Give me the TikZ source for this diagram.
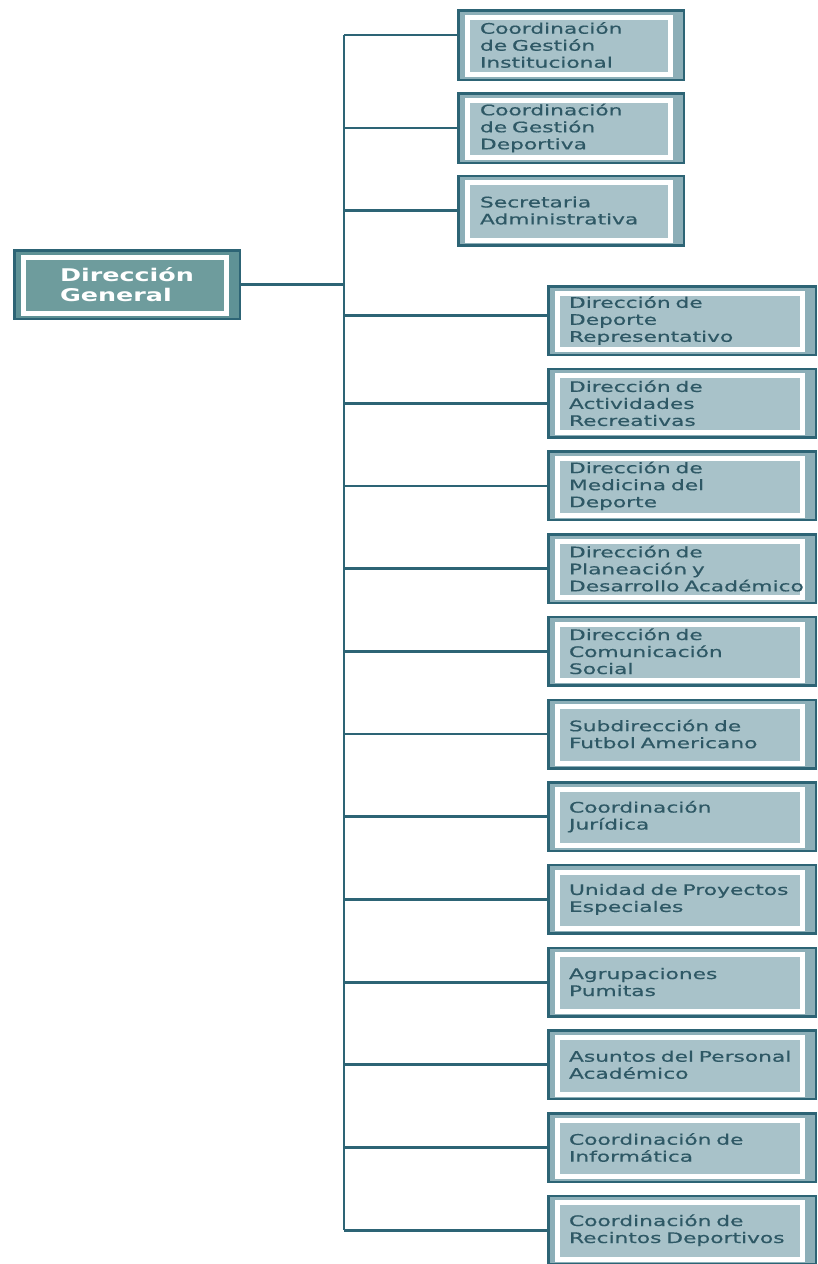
\documentclass[tikz,border=0pt]{standalone}
\usepackage{fontspec}
\newfontfamily\boxfont[FakeStretch=1.5,FakeBold=0.5]{DejaVu Sans}
\newfontfamily\dgfont[FakeStretch=1.45]{DejaVu Sans}
\definecolor{darkb}{HTML}{2D6475}
\definecolor{midb}{HTML}{8DAFB8}
\definecolor{innerb}{HTML}{A8C2C9}
\definecolor{txtb}{HTML}{2E5865}
\definecolor{dgfill}{HTML}{6E9C9D}
\definecolor{dgmid}{HTML}{5F9296}
\tikzset{
  orgbase/.style={draw=darkb, line width=2.5pt, rectangle, anchor=center, inner ysep=0pt},
  lightbox/.style={orgbase, fill=midb, text=txtb, align=left,
    font={\boxfont\fontsize{14.5}{17}\selectfont},
    path picture={\draw[white, line width=5pt, fill=innerb]
      ([xshift=9pt,yshift=-7pt]path picture bounding box.north west) rectangle
      ([xshift=-13pt,yshift=5pt]path picture bounding box.south east);}},
  topbox/.style={lightbox, minimum width=225.5pt, minimum height=69.5pt, inner xsep=21.75pt, text width=182pt},
  rightbox/.style={lightbox, minimum width=267.5pt, minimum height=68.5pt, inner xsep=20.75pt, text width=226pt},
  dgbox/.style={orgbase, fill=dgmid, text=white, align=left,
    minimum width=225.5pt, minimum height=68.5pt,
    font={\dgfont\bfseries\fontsize{17.5}{20}\selectfont},
    path picture={\draw[white, line width=5pt, fill=dgfill]
      ([xshift=9pt,yshift=-7pt]path picture bounding box.north west) rectangle
      ([xshift=-13pt,yshift=5pt]path picture bounding box.south east);}},
  conn/.style={draw=darkb, line width=2.8pt}
}
\begin{document}
\begin{tikzpicture}[x=1pt,y=-1pt]
\useasboundingbox[fill=white] (0,0) rectangle (818,1264);
% Direccion General
\node[dgbox] (dg) at (127,284.5) {Dirección\\General};
% top boxes
\node[topbox] (t1) at (571,45) {Coordinación\\de~Gestión\\Institucional};
\node[topbox] (t2) at (571,128) {Coordinación\\de~Gestión\\Deportiva};
\node[topbox] (t3) at (571,210.5) {Secretaria\\Administrativa};
% right boxes
\node[rightbox] (r1) at (682,320.5) {Dirección~de\\Deporte\\Representativo};
\node[rightbox] (r2) at (682,403.2) {Dirección~de\\Actividades\\Recreativas};
\node[rightbox] (r3) at (682,485.9) {Dirección~de\\Medicina~del\\Deporte};
\node[rightbox] (r4) at (682,568.6) {Dirección~de\\Planeación~y\\Desarrollo~Académico};
\node[rightbox] (r5) at (682,651.3) {Dirección~de\\Comunicación\\Social};
\node[rightbox] (r6) at (682,734) {Subdirección~de\\Futbol~Americano};
\node[rightbox] (r7) at (682,816.7) {Coordinación\\Jurídica};
\node[rightbox] (r8) at (682,899.4) {Unidad~de~Proyectos\\Especiales};
\node[rightbox] (r9) at (682,982.1) {Agrupaciones\\Pumitas};
\node[rightbox] (r10) at (682,1064.8) {Asuntos~del~Personal\\Académico};
\node[rightbox] (r11) at (682,1147.5) {Coordinación~de\\Informática};
\node[rightbox] (r12) at (682,1230.2) {Coordinación~de\\Recintos~Deportivos};
% spine
\coordinate (spinetop) at (344,35);
\coordinate (spinebot) at (spinetop |- r12.west);
\draw[conn] (spinetop) -- (spinebot);
% connectors
\draw[conn] (dg.east) -- (dg.east -| spinetop);
\draw[conn] (spinetop) -- (spinetop -| t1.west);
\draw[conn] (spinetop |- t2.west) -- (t2.west);
\draw[conn] (spinetop |- t3.west) -- (t3.west);
\draw[conn] ([yshift=5pt]r1.west -| spinetop) -- ([yshift=5pt]r1.west);
\foreach \n in {r2,r3,r4,r5,r6,r7,r8,r9,r10,r11,r12}{
  \draw[conn] (spinetop |- \n.west) -- (\n.west);
}
\end{tikzpicture}
\end{document}
